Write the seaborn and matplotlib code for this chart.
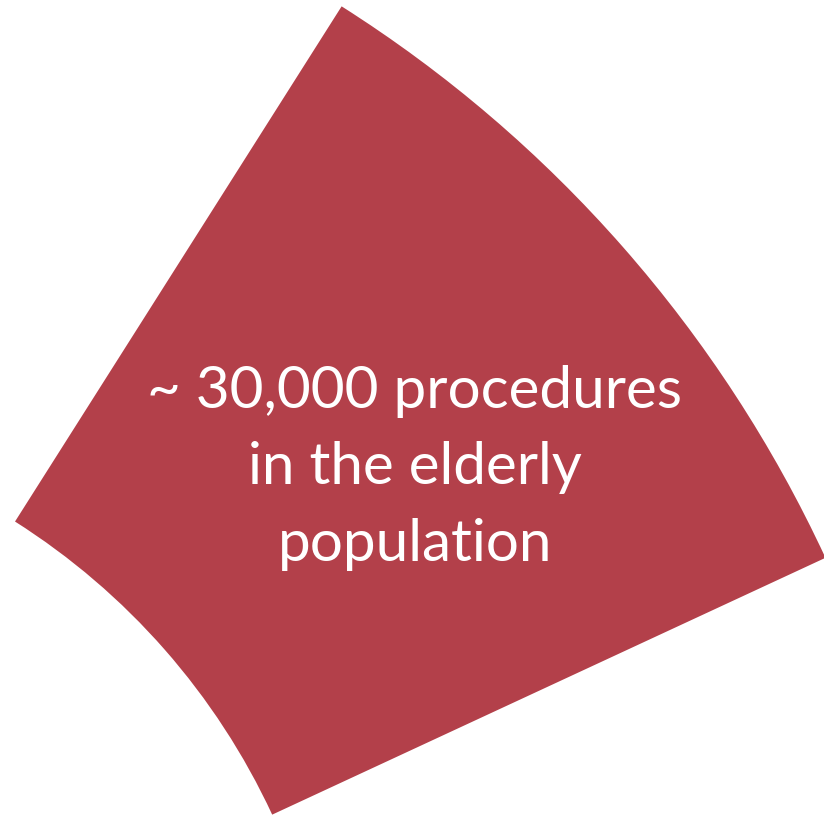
import matplotlib
matplotlib.use("Agg")
import matplotlib.pyplot as plt
import seaborn as sns

sns.set_style("white")
plt.rcParams['font.family'] = ['Lato', 'DejaVu Sans']

# Data
categories = ["Elderly population", "Other"]
values = [30000, 300000]
label_text = "~ 30,000 procedures\nin the elderly\npopulation"
slice_color = "#B3404A"

fig = plt.figure(figsize=(8.24, 8.18), dpi=100)
ax = fig.add_axes([0, 0, 1, 1])

start = 24.9
ax.pie(values, startangle=start, counterclock=True,
       colors=[slice_color, "none"], center=(-355.5, -288.0), radius=1302,
       wedgeprops=dict(width=1302 - 692, linewidth=0))
ax.set_xlim(0, 824)
ax.set_ylim(0, 818)
ax.set_aspect('equal')
ax.axis('off')
ax.text(415, 350, label_text, ha='center', va='center', color='white',
        fontsize=42, linespacing=1.55)

fig.savefig("out.png", dpi=100)
